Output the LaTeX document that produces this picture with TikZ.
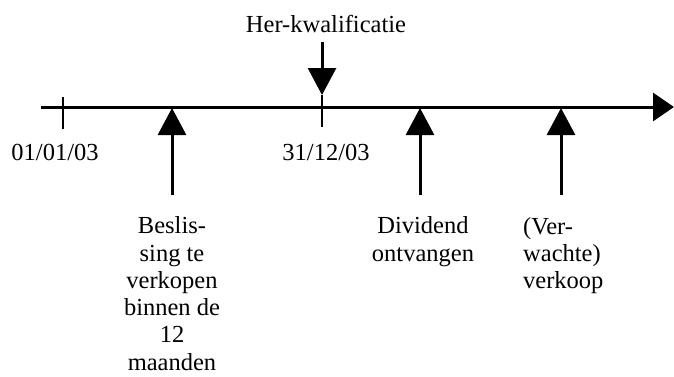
\documentclass[tikz,border=0pt]{standalone}
\usepackage{fontspec}
\setmainfont{Liberation Serif}
\usetikzlibrary{arrows.meta}
\tikzset{
  lbl/.style={inner sep=0pt, font=\fontsize{24.5}{27.3}\selectfont},
  axis/.style={line width=3pt, -{Triangle[length=21pt, width=28pt]}},
  tick/.style={line width=2.4pt},
  event/.style={line width=3pt, -{Triangle[length=27pt, width=28pt]}},
}
\begin{document}
\begin{tikzpicture}[x=1pt, y=-1pt]
  \useasboundingbox (0,0) rectangle (674,376);

  % time axis
  \coordinate (axL) at (41,107);
  \coordinate (axR) at (674,107);
  \draw[axis] (axL) -- (axR);

  % ticks on the axis
  \coordinate (tkAtop) at (63,97);
  \coordinate (tkAbot) at (63,129);
  \draw[tick] (tkAtop) -- (tkAbot);
  \coordinate (tkBtop) at (322,95);
  \coordinate (tkBbot) at (322,127);
  \draw[tick] (tkBtop) -- (tkBbot);

  % dates
  \node[lbl, anchor=base] (d1) at (55,160) {01/01/03};
  \node[lbl, anchor=base] (d2) at (326,160) {31/12/03};

  % re-qualification marker
  \node[lbl, anchor=base] (her) at (326,32) {Her-kwalificatie};
  \coordinate (herS) at (322,42);
  \draw[event] (herS) -- (tkBtop);

  % events below the axis
  \coordinate (e1S) at (172,195);  \coordinate (e1T) at (172,108);
  \coordinate (e2S) at (420,195);  \coordinate (e2T) at (420,108);
  \coordinate (e3S) at (561,195);  \coordinate (e3T) at (561,108);
  \draw[event] (e1S) -- (e1T);
  \draw[event] (e2S) -- (e2T);
  \draw[event] (e3S) -- (e3T);

  \node[lbl, anchor=north, align=center] (t1) at (172,216.5)
    {Beslis-\\sing te\\verkopen\\binnen de\\12\\maanden};
  \node[lbl, anchor=north, align=center] (t2) at (423,216.5)
    {Dividend\\ontvangen};
  \node[lbl, anchor=north west, align=left] (t3) at (523,217)
    {(Ver-\\wachte)\\verkoop};
\end{tikzpicture}
\end{document}
